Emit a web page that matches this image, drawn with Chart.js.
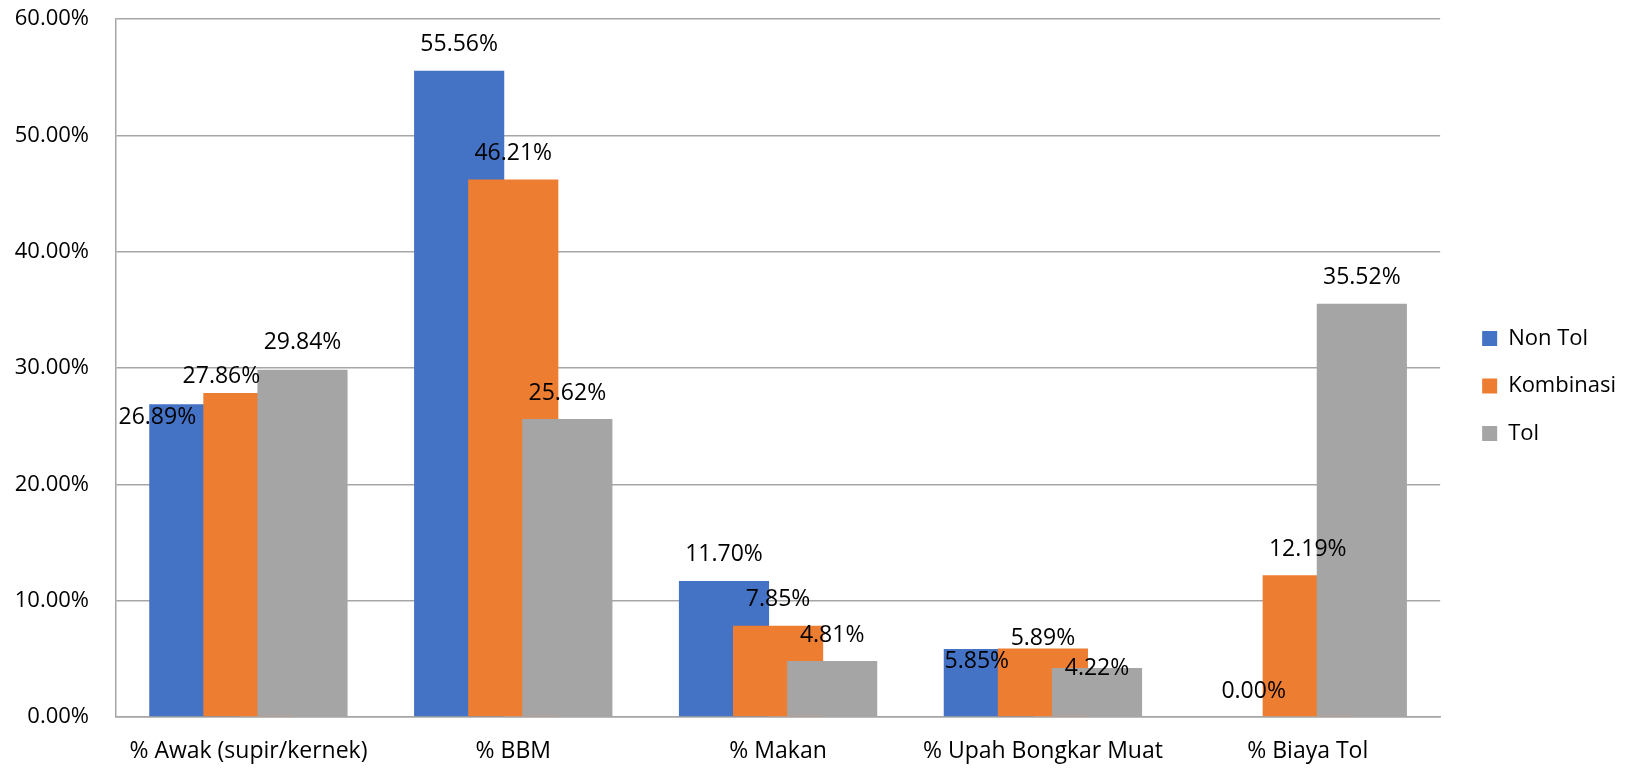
<!DOCTYPE html>
<html>
<head>
<meta charset="utf-8">
<script src="https://cdn.jsdelivr.net/npm/chart.js@4.4.1/dist/chart.umd.min.js"></script>
<style>
  html, body { margin: 0; padding: 0; background: #fff; }
  #wrap { width: 1626px; height: 769px; }
</style>
</head>
<body>
<div id="wrap"><canvas id="chart"></canvas></div>
<script>
const categories = ['% Awak (supir/kernek)', '% BBM', '% Makan', '% Upah Bongkar Muat', '% Biaya Tol'];
const nonTol = [26.89, 55.56, 11.70, 5.85, 0.00];
const kombinasi = [27.86, 46.21, 7.85, 5.89, 12.19];
const tol = [29.84, 25.62, 4.81, 4.22, 35.52];
const seriesNames = ['Non Tol', 'Kombinasi', 'Tol'];
const yTicks = [0, 10, 20, 30, 40, 50, 60];

// label nudges (dataset,category) -> [dx, dy] from bar top, like Excel's collision moves
const labelShift = {
  '0,0': [-37, 13], '1,0': [-27, -16], '2,0': [0, -27],
  '0,3': [-12, 13], '1,3': [0, -10], '2,3': [0, 1]
};

const FONT = '"Open Sans", sans-serif';

// draw series in index order so later series overlap earlier ones (Excel overlap)
const drawInOrder = {
  id: 'drawInOrder',
  beforeDatasetsDraw(chart) {
    const { ctx, chartArea: a } = chart;
    ctx.save();
    ctx.beginPath();
    ctx.rect(a.left, a.top, a.width, a.height);
    ctx.clip();
    chart.data.datasets.forEach((d, i) => chart.getDatasetMeta(i).controller.draw());
    ctx.restore();
    return false;
  }
};

const valueLabels = {
  id: 'valueLabels',
  afterDraw(chart) {
    const ctx = chart.ctx;
    ctx.save();
    ctx.font = '23px ' + FONT;
    ctx.fillStyle = '#000';
    ctx.textAlign = 'center';
    ctx.textBaseline = 'middle';
    chart.data.datasets.forEach((ds, i) => {
      chart.getDatasetMeta(i).data.forEach((bar, j) => {
        const s = labelShift[i + ',' + j] || [0, -26];
        ctx.fillText(ds.data[j].toFixed(2) + '%', bar.x + s[0], bar.y + s[1]);
      });
    });
    ctx.restore();
  }
};

new Chart(document.getElementById('chart'), {
  type: 'bar',
  data: {
    labels: categories,
    datasets: [
      { label: seriesNames[0], data: nonTol, backgroundColor: '#4472C4' },
      { label: seriesNames[1], data: kombinasi, backgroundColor: '#ED7D31' },
      { label: seriesNames[2], data: tol, backgroundColor: '#A5A5A5' }
    ]
  },
  options: {
    responsive: true,
    maintainAspectRatio: false,
    animation: false,
    datasets: {
      bar: {
        categoryPercentage: 0.6127,
        barPercentage: 1.667, // wider than the slot -> bars overlap
        borderWidth: 0
      }
    },
    layout: { padding: { top: 3, bottom: 0, left: 0, right: 0 } },
    plugins: {
      legend: {
        position: 'right',
        labels: {
          boxWidth: 15,
          boxHeight: 15,
          padding: 25.5,
          color: '#000',
          font: { family: FONT, size: 22 }
        }
      },
      tooltip: { enabled: false }
    },
    scales: {
      x: {
        grid: { display: false, drawTicks: false },
        border: { display: true, color: '#A6A6A6', width: 1.5 },
        ticks: { color: '#000', padding: 21, maxRotation: 0, font: { family: FONT, size: 23 } },
        afterFit: (s) => { s.height = 52; }
      },
      y: {
        min: 0,
        max: 60,
        afterBuildTicks: (s) => { s.ticks = yTicks.map(v => ({ value: v })); },
        ticks: {
          color: '#000',
          padding: 27,
          font: { family: FONT, size: 22 },
          callback: (v) => v.toFixed(2) + '%'
        },
        grid: { color: '#A6A6A6', lineWidth: 1.5, drawTicks: false },
        border: { display: true, color: '#A6A6A6', width: 1.5 },
        afterFit: (s) => {
          s.width = 116;
          s.paddingTop = 19;
          s.paddingBottom = 13;
        }
      },
      gap: {
        position: 'right',
        display: true,
        grid: { display: false },
        border: { display: false },
        ticks: { display: false },
        afterFit: (s) => { s.width = 16.5; }
      }
    }
  },
  plugins: [drawInOrder, valueLabels]
});
</script>
</body>
</html>
